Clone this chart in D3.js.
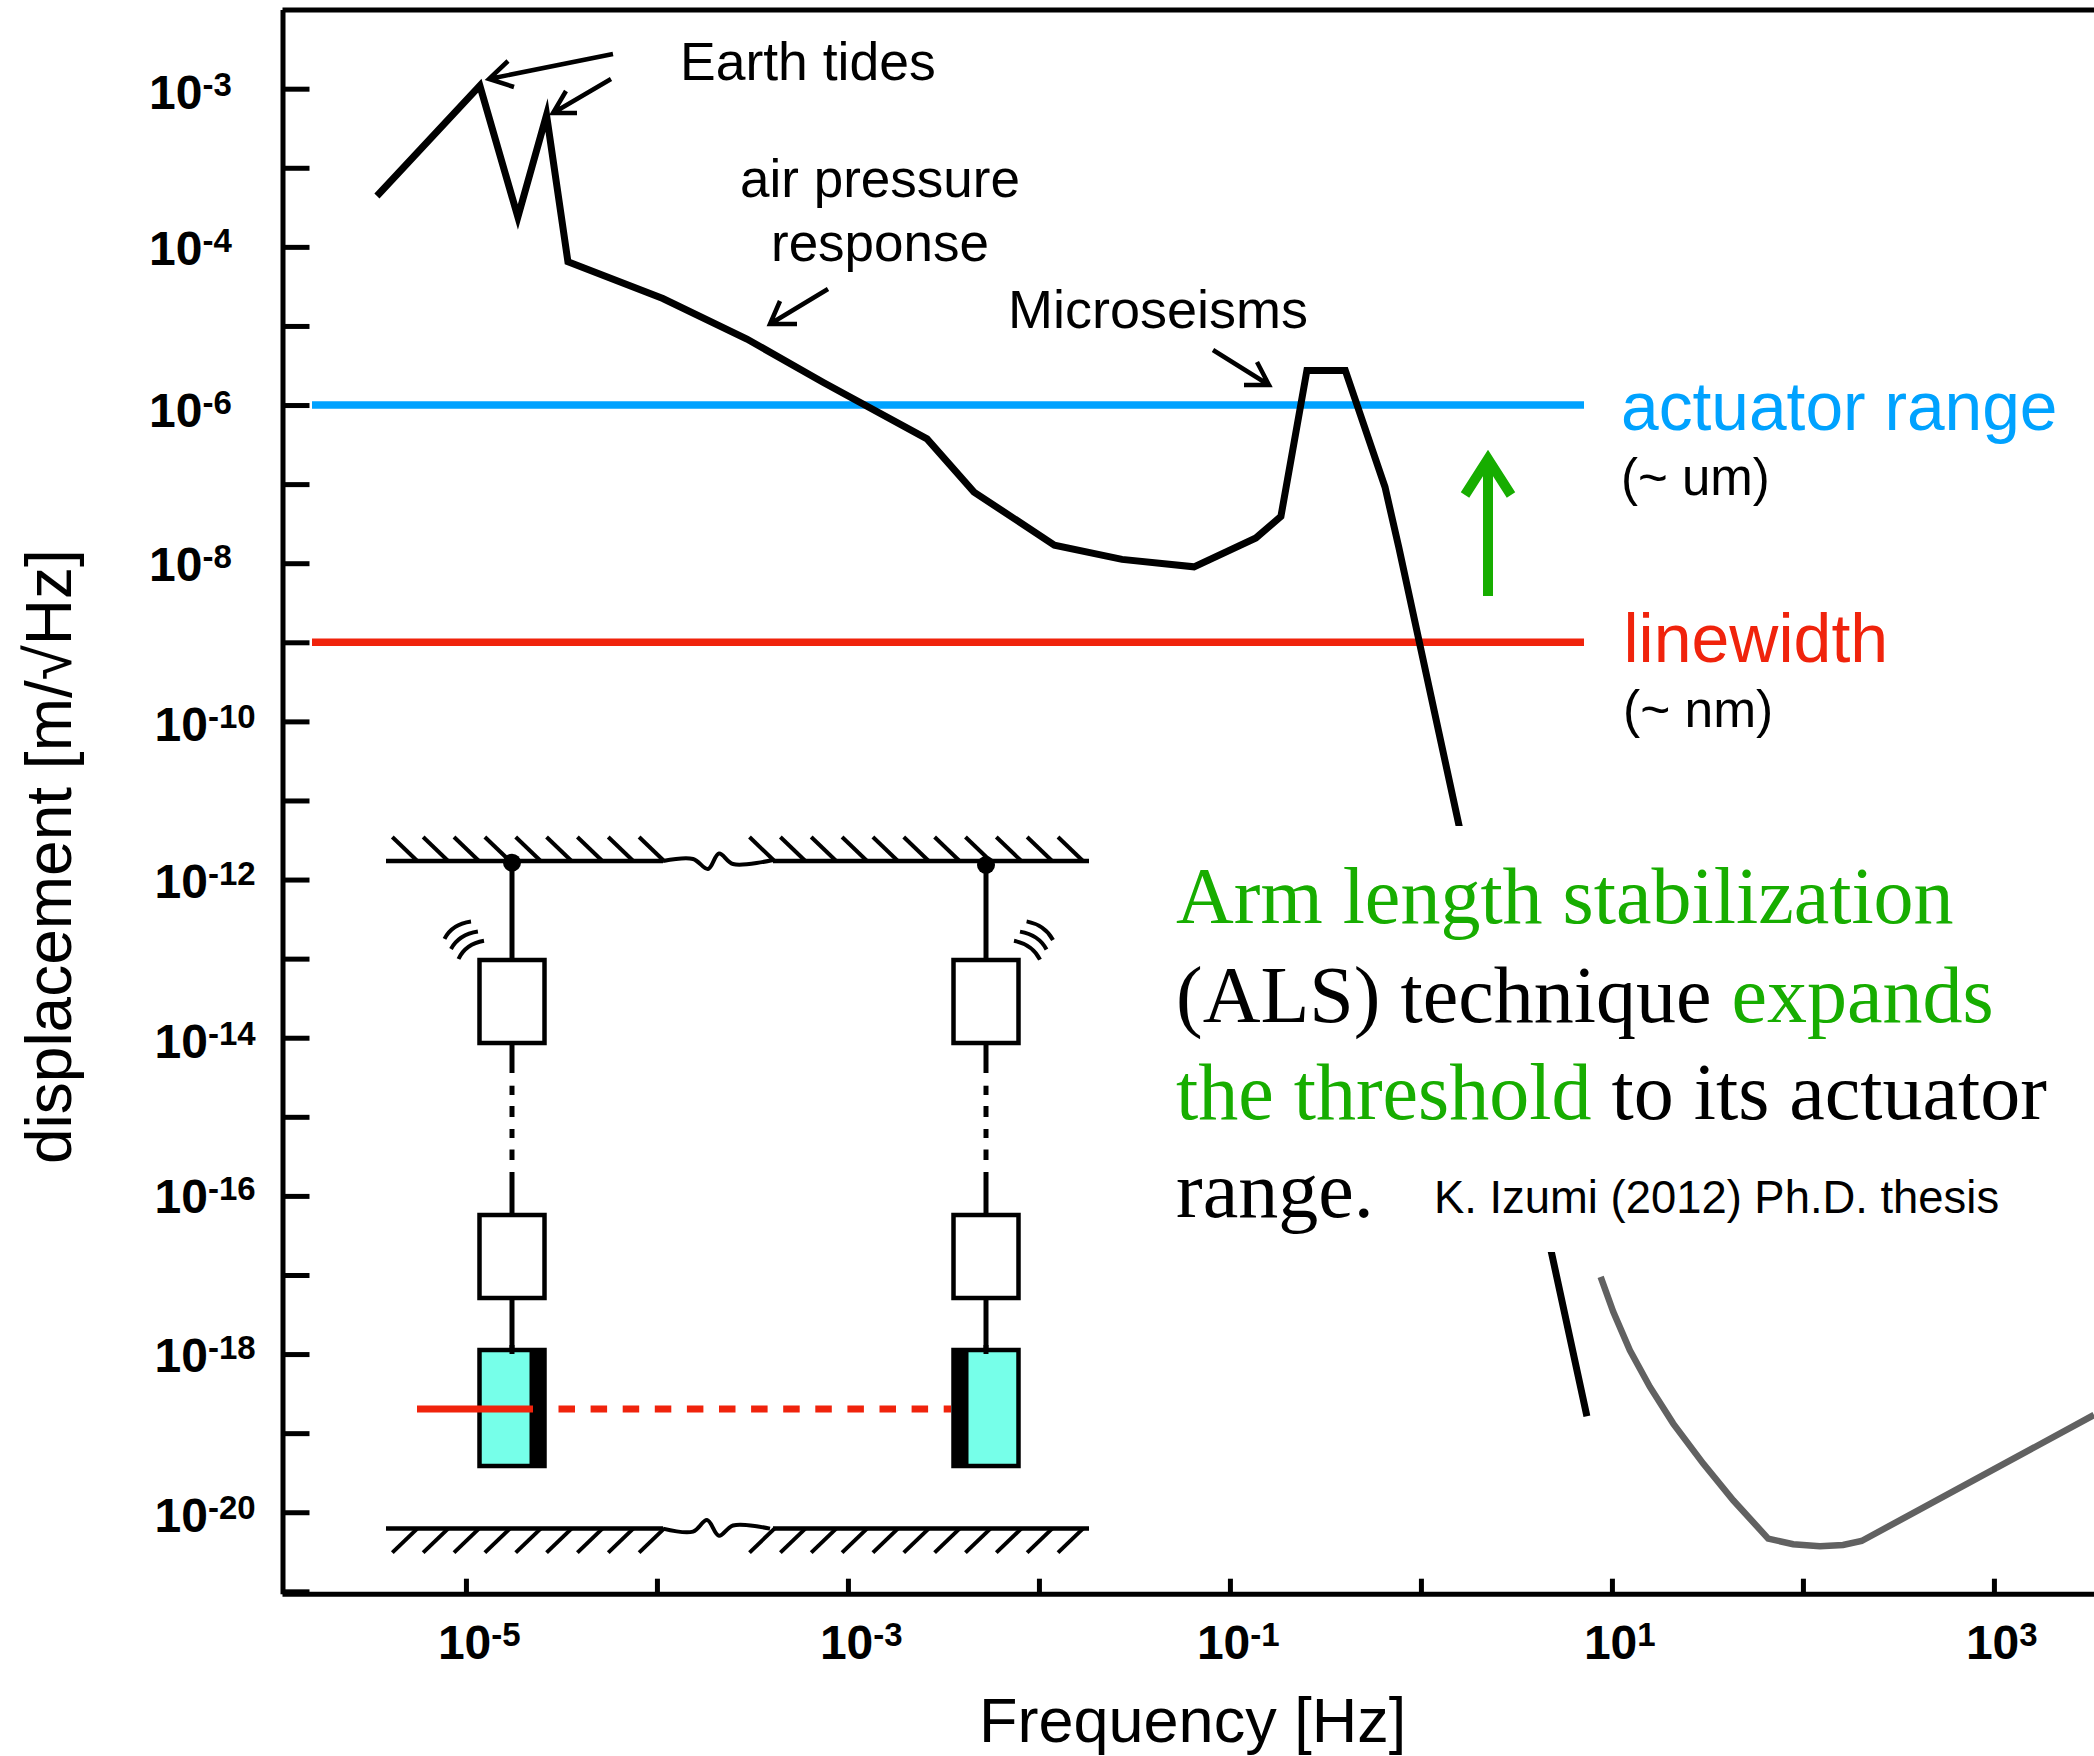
<!DOCTYPE html>
<html><head><meta charset="utf-8">
<script src="https://cdn.jsdelivr.net/npm/d3@7"></script>
<style>
html,body{margin:0;padding:0;background:#fff}
svg{display:block}
text{font-family:"Liberation Sans",Arial,sans-serif}
.serif{font-family:"Liberation Serif","Times New Roman",serif}
</style></head><body>
<script>
// ---- data (log10 values) ----
const seismicLogFreq = [-5.466,-4.927,-4.728,-4.578,-4.466,-3.969,-3.529,-3.126,-2.586,-2.340,-1.919,-1.565,-1.188,-0.864,-0.733,-0.597,-0.396,-0.188,-0.115,0.869];
const seismicLogDisp = [-3.357,-1.962,-3.623,-2.333,-4.188,-4.653,-5.166,-5.718,-6.428,-7.101,-7.771,-7.952,-8.046,-7.681,-7.409,-5.563,-5.563,-7.037,-7.808,-18.786];
const sensLogFreq = [0.941,1.007,1.094,1.199,1.321,1.478,1.635,1.818,1.949,2.089,2.21,2.307,3.524];
const sensLogDisp = [-17.025,-17.467,-17.952,-18.416,-18.879,-19.385,-19.849,-20.333,-20.405,-20.43,-20.414,-20.364,-18.77];
const actuatorRange = 1e-6;
const linewidth = 1e-9;
const xTickExps = [-5,-4,-3,-2,-1,0,1,2,3];
const xLabelExps = [-5,-3,-1,1,3];
const yTickExps = [-2,-3,-4,-5,-6,-7,-8,-9,-10,-11,-12,-13,-14,-15,-16,-17,-18,-19,-20,-21];
const yLabelExps = [-2,-4,-6,-8,-10,-12,-14,-16,-18,-20];
const yLabelTexts = ["-3","-4","-6","-8","-10","-12","-14","-16","-18","-20"];

const BLUE="#00a2ff",RED="#f0230c",GREEN="#17ad00",GRAY="#616161",CYAN="#76ffe9";
const W=2094,H=1756;
const svg=d3.select("body").append("svg").attr("width",W).attr("height",H).attr("viewBox",`0 0 ${W} ${H}`);

const x=d3.scaleLog().domain([Math.pow(10,-5.963),Math.pow(10,3.524)]).range([282,2094]);
const y=d3.scaleLog().domain([1e-1,Math.pow(10,-21.03)]).range([9.6,1593.7]);
const pow=e=>Math.pow(10,e);

const line=d3.line().x(d=>x(d[0])).y(d=>y(d[1]));
const pts=(fx,fy)=>fx.map((f,i)=>[pow(f),pow(fy[i])]);

// reference lines
[[actuatorRange,BLUE],[linewidth,RED]].forEach(([v,c])=>{
  svg.append("line").attr("x1",312).attr("x2",1584).attr("y1",y(v)).attr("y2",y(v))
    .attr("stroke",c).attr("stroke-width",7.5);
});

// curves
svg.append("path").attr("d",line(pts(seismicLogFreq,seismicLogDisp)))
  .attr("fill","none").attr("stroke","#000").attr("stroke-width",7).attr("stroke-linejoin","miter").attr("stroke-miterlimit",6);
svg.append("path").attr("d",line(pts(sensLogFreq,sensLogDisp)))
  .attr("fill","none").attr("stroke",GRAY).attr("stroke-width",6.5);

// white panel hiding the curve behind the caption
svg.append("rect").attr("x",1150).attr("y",826).attr("width",944).attr("height",426).attr("fill","#fff");

// axes
const styleAxis=g=>{g.selectAll("path.domain").attr("stroke","#000").attr("stroke-width",5);
  g.selectAll(".tick line").attr("stroke","#000").attr("stroke-width",5);g.selectAll(".tick text").remove();};
svg.append("g").attr("transform","translate(282.5,0)")
  .call(d3.axisLeft(y).tickValues(yTickExps.map(pow)).tickSize(-27).tickSizeOuter(0)).call(styleAxis);
svg.append("g").attr("transform","translate(0,1593.7)")
  .call(d3.axisBottom(x).tickValues(xTickExps.map(pow)).tickSize(-15).tickSizeOuter(0)).call(styleAxis);
svg.append("g").attr("transform","translate(0,9.6)")
  .call(d3.axisTop(x).tickValues([]).tickSizeOuter(0)).call(styleAxis);

function powerLabel(px,py,sup){
  const t=svg.append("text").attr("x",px).attr("y",py).attr("font-weight","bold").attr("font-size",48);
  t.append("tspan").text("10");
  t.append("tspan").attr("dy",-13).attr("font-size",33).text(sup);
}
const yNudge={"-4":-2,"-6":2,"-8":-2,"-12":-2,"-16":-3,"-18":-2};
yLabelExps.forEach((e,i)=>{
  const s=yLabelTexts[i];
  powerLabel(s.length>2?154.5:149,y(pow(e))+20+(yNudge[s]||0),s);
});
const xNudge={"-1":-5};
xLabelExps.forEach(e=>powerLabel(x(pow(e))-28+(xNudge[e]||0),1659,String(e)));

// axis titles
svg.append("text").attr("x",979).attr("y",1742).attr("font-size",63).text("Frequency [Hz]");
svg.append("text").attr("transform","translate(71,1164) rotate(-90)").attr("font-size",64).text("displacement [m/√Hz]");

// annotations
function label(t,px,py,size,fill,anchor){return svg.append("text").attr("x",px).attr("y",py).attr("font-size",size)
  .attr("fill",fill||"#000").attr("text-anchor",anchor||"start").text(t);}
label("Earth tides",680,80,53.5);
label("air pressure",880,197,53,null,"middle");
label("response",880,261,53,null,"middle");
label("Microseisms",1008,328,54);
label("actuator range",1621,430,67.7,BLUE);
label("(~ um)",1621,495,51);
label("linewidth",1623.5,662,68,RED);
label("(~ nm)",1623,727,51.5);
label("K. Izumi (2012) Ph.D. thesis",1434,1213,45.4);

function arrow(x0,y0,tx,ty,a,b,c,d){
  svg.append("path").attr("d",`M${x0},${y0}L${tx},${ty}M${a},${b}L${tx},${ty}L${c},${d}`)
    .attr("fill","none").attr("stroke","#000").attr("stroke-width",4.5);
}
arrow(613,54,489,79,508,61,514,87);
arrow(611,79,553,113,566,91,577,113);
arrow(828,289,770,324,780,301,797,324);
arrow(1213,350,1269,385,1257,362,1244,385);

// green arrow
svg.append("path").attr("d","M1488,596L1488,459M1465,495L1488,459L1511,495")
  .attr("fill","none").attr("stroke",GREEN).attr("stroke-width",10).attr("stroke-linejoin","miter").attr("stroke-miterlimit",10);

// caption
function runs(py,arr){
  const t=svg.append("text").attr("class","serif").attr("x",1176).attr("y",py).attr("font-size",80).attr("xml:space","preserve");
  arr.forEach(([s,c])=>t.append("tspan").attr("fill",c).text(s));
}
runs(923,[["Arm length stabilization",GREEN]]);
runs(1022,[["(ALS) technique ","#000"],["expands",GREEN]]);
runs(1119,[["the threshold",GREEN],[" to its actuator","#000"]]);
runs(1217,[["range.","#000"]]);

// schematic inset
const S=svg.append("g").attr("fill","none").attr("stroke","#000").attr("stroke-linecap","butt");
function ground(yy,dir,wave){
  S.append("path").attr("d",`M386,${yy}L663,${yy}M773,${yy}L1089,${yy}`).attr("stroke-width",4.5);
  S.append("path").attr("d",d3.line().curve(d3.curveCatmullRom)(wave)).attr("stroke-width",4);
  const ht=[];
  d3.range(9).forEach(i=>ht.push(392.3+30.85*i));
  d3.range(11).forEach(i=>ht.push(749.5+30.85*i));
  ht.forEach(h=>{
    if(dir<0) S.append("line").attr("x1",h).attr("y1",yy-24).attr("x2",h+25).attr("y2",yy);
    else S.append("line").attr("x1",h+25).attr("y1",yy).attr("x2",h).attr("y2",yy+24);
  });
  S.selectAll("line").attr("stroke-width",4);
}
ground(861,-1,[[663,861],[693,859],[708,869],[719,853.5],[733,864],[773,860]]);
ground(1528.6,1,[[663,1528.6],[693,1531.6],[707,1520],[719,1535.7],[733,1525.5],[770,1528.6]]);

function pendulum(cx,dotY,blackLeft){
  S.append("circle").attr("cx",cx).attr("cy",dotY).attr("r",9).attr("fill","#000").attr("stroke","none");
  [[dotY,960],[1045,1073],[1085.7,1095],[1106,1117],[1129,1138],[1149.5,1160],[1172,1215],[1298,1354]].forEach(([a,b])=>{
    S.append("line").attr("x1",cx).attr("x2",cx).attr("y1",a).attr("y2",b).attr("stroke-width",5);
  });
  const bx=cx-32.5;
  [[960,83],[1215,83]].forEach(([t,h])=>S.append("rect").attr("x",bx).attr("y",t).attr("width",65).attr("height",h).attr("fill","#fff").attr("stroke-width",4.5));
  S.append("rect").attr("x",bx).attr("y",1350).attr("width",65).attr("height",116).attr("fill",CYAN).attr("stroke-width",4.5);
  S.append("rect").attr("x",blackLeft?bx-1:bx+50).attr("y",1348).attr("width",16).attr("height",120).attr("fill","#000").attr("stroke","none");
  S.append("line").attr("x1",cx).attr("x2",cx).attr("y1",1345).attr("y2",1354).attr("stroke-width",5);
}
pendulum(512,862.7,false);
pendulum(986,865,true);
[["M444.5,938.8Q452,924 471,921.4"],["M451,949Q459,934.5 477.9,931.6"],["M458.5,959Q465.5,944 484,940.8"],
 ["M1026.6,921.4Q1045,925 1053,940"],["M1020,931.6Q1039,935 1046.5,949.5"],["M1014,940.8Q1032.5,944.5 1040,959.7"]]
 .forEach(([d])=>S.append("path").attr("d",d).attr("stroke-width",4));
svg.append("line").attr("x1",417).attr("x2",533).attr("y1",1409).attr("y2",1409).attr("stroke",RED).attr("stroke-width",7);
svg.append("line").attr("x1",558.5).attr("x2",951).attr("y1",1409).attr("y2",1409).attr("stroke",RED).attr("stroke-width",7).attr("stroke-dasharray","16.5 15.6");
</script>
</body></html>
